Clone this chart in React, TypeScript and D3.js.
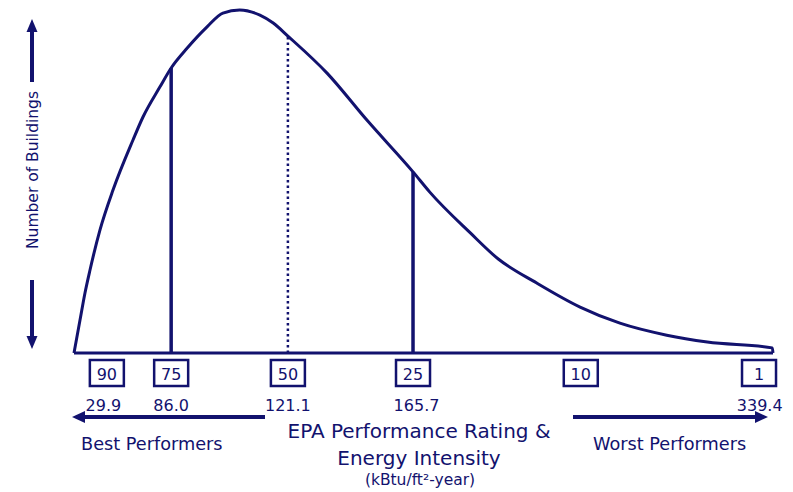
import React from "react";
import * as d3 from "d3";

// Distribution curve: position along the rating axis (0-100) vs. relative number of buildings (0-100)
const curvePos = [0, 0.86, 1.57, 2.29, 3.72, 5.58, 8.44, 9.87, 12.3, 13.9, 16.2, 19.0, 21.3, 23.7, 26.6, 28.5, 30.6, 36.2, 41.9, 48.5, 50.9, 56.7, 60.7, 66.2, 72.4, 78.1, 84.8, 90.6, 99.9, 100];
const curveCount = [0, 9.6, 17.5, 24.2, 35.9, 47.5, 62.1, 68.8, 77.6, 83.1, 88.9, 95.0, 99.1, 100, 98.5, 96.2, 92.4, 81.6, 67.9, 52.8, 46.9, 35.0, 27.4, 20.4, 13.4, 8.7, 5.2, 3.2, 1.5, 0];

// Rating markers
const ratings = ["90", "75", "50", "25", "10", "1"];
const ratingPos = [4.7, 13.9, 30.6, 48.5, 72.5, 98.0];

// Energy intensity labels
const euiLabels = ["29.9", "86.0", "121.1", "165.7", "339.4"];
const euiPos = [4.2, 13.9, 30.6, 49.0, 98.1];

// Vertical percentile lines
const linePos = [13.9, 30.6, 48.5];
const lineCount = [83.1, 92.4, 52.8];
const lineDotted = [false, true, false];

const yLabel = "Number of Buildings";
const titleLines = ["EPA Performance Rating &", "Energy Intensity"];
const unitLabel = "(kBtu/ft\u00b2-year)";
const leftLabel = "Best Performers";
const rightLabel = "Worst Performers";

const C = "#12126e";
const FONT = "'DejaVu Sans', Verdana, sans-serif";

export default function App() {
  const W = 793, H = 492;
  const x = d3.scaleLinear().domain([0, 100]).range([74, 773]);
  const y = d3.scaleLinear().domain([0, 100]).range([353, 10]);

  const pts: [number, number][] = curvePos.map((p, i) => [p, curveCount[i]]);
  const line = d3
    .line<[number, number]>()
    .x((d) => x(d[0]))
    .y((d) => y(d[1]))
    .curve(d3.curveMonotoneX);

  const arrowY = 417;

  return (
    <svg
      width={W}
      height={H}
      style={{ position: "absolute", left: 0, top: 0, background: "#fff" }}
      fontFamily={FONT}
    >
      {/* baseline */}
      <line x1={x(0)} x2={x(100)} y1={y(0)} y2={y(0)} stroke={C} strokeWidth={3} />
      {/* curve */}
      <path d={line(pts) || ""} fill="none" stroke={C} strokeWidth={3} strokeLinejoin="round" />

      {/* percentile lines */}
      {linePos.map((p, i) => (
        <line
          key={i}
          x1={x(p)}
          x2={x(p)}
          y1={y(0)}
          y2={y(lineCount[i])}
          stroke={C}
          strokeWidth={lineDotted[i] ? 2.5 : 3.5}
          strokeDasharray={lineDotted[i] ? "2.5,3" : undefined}
        />
      ))}

      {/* rating boxes */}
      {ratings.map((r, i) => (
        <g key={r} transform={`translate(${x(ratingPos[i])},0)`}>
          <rect x={-17} y={360} width={34} height={26} fill="none" stroke={C} strokeWidth={2.5} />
          <text x={0} y={380} textAnchor="middle" fontSize={16} fill={C}>
            {r}
          </text>
        </g>
      ))}

      {/* EUI labels */}
      {euiLabels.map((l, i) => (
        <text key={l} x={x(euiPos[i])} y={411} textAnchor="middle" fontSize={16} fill={C}>
          {l}
        </text>
      ))}

      {/* horizontal arrows */}
      <line x1={265} x2={82} y1={arrowY} y2={arrowY} stroke={C} strokeWidth={4} />
      <path d={`M72,${arrowY} L85,${arrowY - 6} L85,${arrowY + 6} Z`} fill={C} />
      <line x1={573} x2={758} y1={arrowY} y2={arrowY} stroke={C} strokeWidth={4} />
      <path d={`M768,${arrowY} L755,${arrowY - 6} L755,${arrowY + 6} Z`} fill={C} />

      <text x={81} y={450} fontSize={17.7} fill={C}>
        {leftLabel}
      </text>
      <text x={593} y={450} fontSize={17.7} fill={C}>
        {rightLabel}
      </text>

      {/* title */}
      <text x={419} y={438} textAnchor="middle" fontSize={20} fill={C}>
        {titleLines[0]}
      </text>
      <text x={419} y={465} textAnchor="middle" fontSize={20} fill={C}>
        {titleLines[1]}
      </text>
      <text x={420} y={485} textAnchor="middle" fontSize={15.5} fill={C}>
        {unitLabel}
      </text>

      {/* y axis arrows and label */}
      <line x1={32} x2={32} y1={82} y2={30} stroke={C} strokeWidth={4} />
      <path d="M32,19 L26.5,32 L37.5,32 Z" fill={C} />
      <line x1={32} x2={32} y1={280} y2={338} stroke={C} strokeWidth={4} />
      <path d="M32,349 L26.5,336 L37.5,336 Z" fill={C} />
      <text
        transform="translate(37.5,170) rotate(-90)"
        textAnchor="middle"
        fontSize={15.5}
        fill={C}
      >
        {yLabel}
      </text>
    </svg>
  );
}
